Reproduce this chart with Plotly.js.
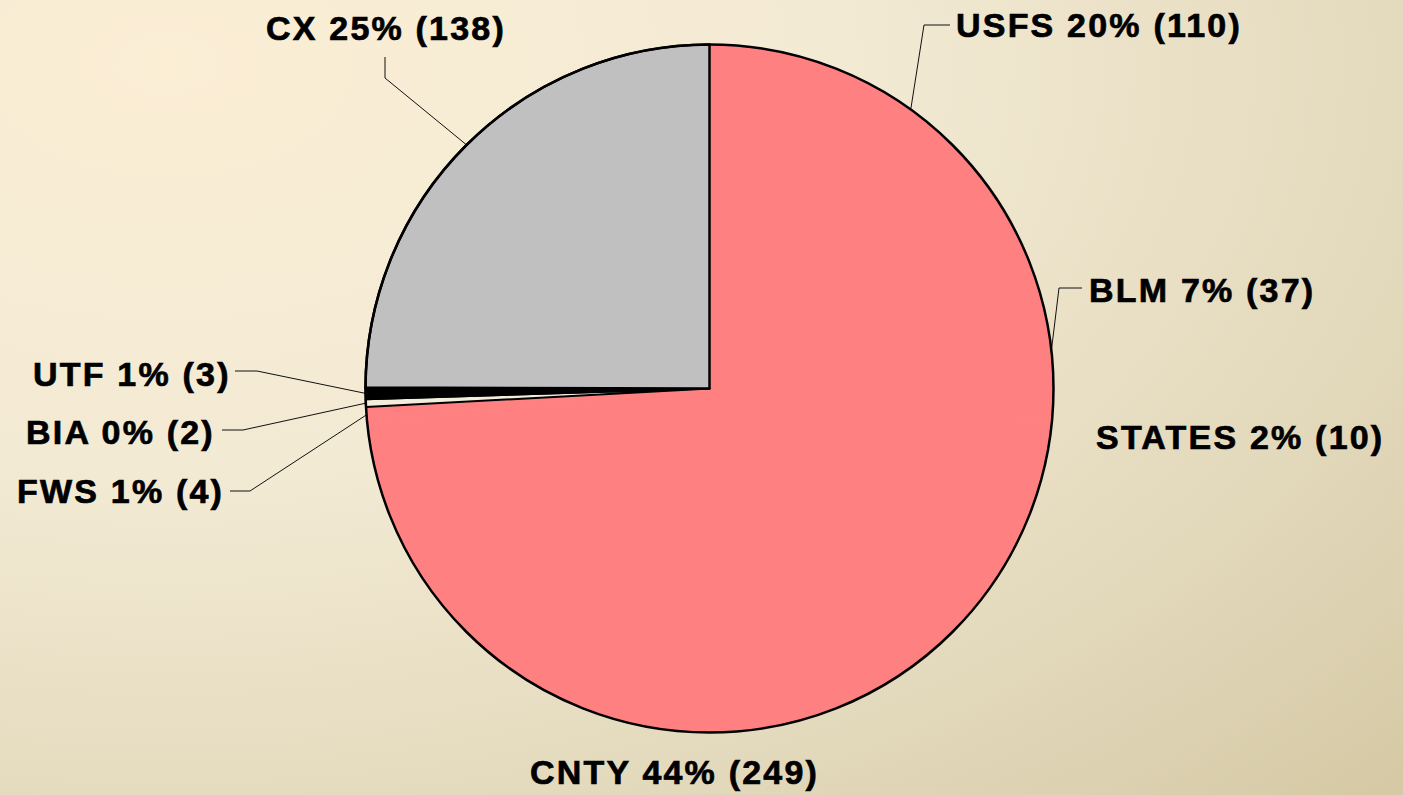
<!DOCTYPE html>
<html>
<head>
<meta charset="utf-8">
<script src="https://cdn.plot.ly/plotly-3.0.1.min.js"></script>
<style>
  html, body { margin: 0; padding: 0; }
  body {
    width: 1403px; height: 795px; overflow: hidden;
    background: radial-gradient(ellipse 120% 130% at 12% 8%, #FBEED5 0%, #F3EAD4 40%, #E3D9BC 75%, #D6CAA6 100%);
  }
  #chart { width: 1403px; height: 795px; }
  .annotation-text { letter-spacing: 2.2px; stroke: #000; stroke-width: 0.7px; }
</style>
</head>
<body>
<div id="chart"></div>
<script>
// ---- data ----
const categories = ['USFS', 'BLM', 'STATES', 'CNTY', 'FWS', 'BIA', 'UTF', 'CX'];
const counts = [110, 37, 10, 249, 4, 2, 3, 138];
const percentLabels = ['20%', '7%', '2%', '44%', '1%', '0%', '1%', '25%'];

// ---- styles ----
const sliceColors = ['#FF8080', '#FF8080', '#FF8080', '#FF8080', '#FF8080', '#F3EEDB', '#000000', '#C0C0C0'];
const sliceLineColors = ['#FF8080', '#FF8080', '#FF8080', '#FF8080', '#FF8080', '#000000', '#000000', '#000000'];
const sliceLineWidths = [1, 1, 1, 1, 1, 2, 2, 2.5];

const W = 1403, H = 795;
const cx = 709.5, cy = 388.5, R = 344;   // pie geometry in pixels
const px = x => x / W;
const py = y => 1 - y / H;

// label placement (pixels): anchor point and leader elbow/end points
const labelPlacement = {
  USFS:   { x: 954,  y: 25,  xa: 'left',   leader: [[924, 25], [950, 25]] },
  BLM:    { x: 1087, y: 290, xa: 'left',   leader: [[1059, 288], [1082, 288]] },
  STATES: { x: 1094, y: 437, xa: 'left',   leader: null },
  CNTY:   { x: 674,  y: 772, xa: 'center', leader: null },
  FWS:    { x: 226,  y: 491, xa: 'right',  leader: [[250, 491], [230, 491]] },
  BIA:    { x: 217,  y: 432, xa: 'right',  leader: [[243, 430], [222, 430]] },
  UTF:    { x: 233,  y: 374, xa: 'right',  leader: [[257, 371], [235, 371]] },
  CX:     { x: 386,  y: 28,  xa: 'center', leader: [[385, 78], [385, 57]] }
};

const total = counts.reduce((a, b) => a + b, 0);
let cum = 0;
const annotations = [];
const shapes = [];
categories.forEach((c, i) => {
  const mid = (cum + counts[i] / 2) / total * 2 * Math.PI;
  cum += counts[i];
  const sx = cx + R * Math.sin(mid), sy = cy - R * Math.cos(mid);
  const p = labelPlacement[c];
  annotations.push({
    xref: 'paper', yref: 'paper', x: px(p.x), y: py(p.y),
    xanchor: p.xa, yanchor: 'middle', showarrow: false,
    text: c + ' ' + percentLabels[i] + ' (' + counts[i] + ')',
    font: { family: 'Liberation Sans, Arial, sans-serif', size: 34, color: '#000', weight: 'bold' }
  });
  if (p.leader) {
    let d = 'M ' + px(sx) + ' ' + py(sy);
    p.leader.forEach(pt => { d += ' L ' + px(pt[0]) + ' ' + py(pt[1]); });
    shapes.push({ type: 'path', xref: 'paper', yref: 'paper', path: d,
      line: { color: '#111', width: 1 } });
  }
});

// outer outline of the pie
shapes.push({ type: 'circle', xref: 'paper', yref: 'paper', layer: 'above',
  x0: px(cx - R), x1: px(cx + R), y0: py(cy + R), y1: py(cy - R),
  line: { color: '#000', width: 2.5 } });

const trace = {
  type: 'pie',
  labels: categories,
  values: counts,
  sort: false,
  direction: 'clockwise',
  rotation: 0,
  textinfo: 'none',
  hoverinfo: 'label+value+percent',
  showlegend: false,
  domain: { x: [px(cx - R), px(cx + R)], y: [py(cy + R), py(cy - R)] },
  marker: { colors: sliceColors, line: { color: sliceLineColors, width: sliceLineWidths } }
};

const layout = {
  width: W, height: H,
  margin: { l: 0, r: 0, t: 0, b: 0 },
  paper_bgcolor: 'rgba(0,0,0,0)',
  plot_bgcolor: 'rgba(0,0,0,0)',
  showlegend: false,
  annotations: annotations,
  shapes: shapes
};

Plotly.newPlot('chart', [trace], layout, { displayModeBar: false, staticPlot: true });
</script>
</body>
</html>
